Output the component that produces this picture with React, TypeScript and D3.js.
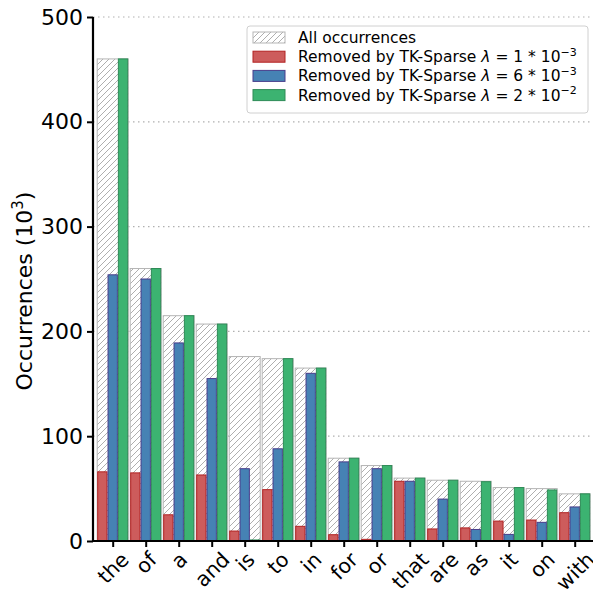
import React, { useEffect, useRef } from 'react';
import * as d3 from 'd3';

const words = ['the', 'of', 'a', 'and', 'is', 'to', 'in', 'for', 'or', 'that', 'are', 'as', 'it', 'on', 'with'];
const allOcc = [460, 260, 215, 207, 176, 174, 165, 79, 72, 60, 58, 57, 51, 50, 45];
const removedLam1 = [66, 65, 25, 63, 9.5, 49, 14, 6, 1.6, 57, 11.5, 12.5, 19, 20, 27];
const removedLam6 = [254, 250, 189, 155, 69, 88, 160, 75.5, 69, 57, 40, 11, 6.3, 17.8, 32.5];
const removedLam2 = [460, 260, 215, 207, 1, 174, 165, 79, 72, 60, 58, 56.6, 51, 48.7, 45];
const yTicks = [0, 100, 200, 300, 400, 500];

const series = [
  { values: removedLam1, fill: '#cd5c5c', stroke: '#b22222', coef: '1', exp: '−3' },
  { values: removedLam6, fill: '#4682b4', stroke: '#483d8b', coef: '6', exp: '−3' },
  { values: removedLam2, fill: '#3cb371', stroke: '#2e8b57', coef: '2', exp: '−2' },
];

export default function App() {
  const svgRef = useRef<SVGSVGElement | null>(null);

  useEffect(() => {
    if (!svgRef.current) return;
    const left = 93, right = 593, top = 17, bottom = 541;
    const font = 'DejaVu Sans, sans-serif';

    const svg = d3.select(svgRef.current);
    svg.selectAll('*').remove();

    // hatch for "all occurrences"
    const defs = svg.append('defs');
    const pat = defs.append('pattern')
      .attr('id', 'hatch')
      .attr('patternUnits', 'userSpaceOnUse')
      .attr('width', 6)
      .attr('height', 6);
    pat.append('rect').attr('width', 6).attr('height', 6).attr('fill', '#fff');
    pat.append('path')
      .attr('d', 'M-1,1 l2,-2 M0,6 l6,-6 M5,7 l2,-2')
      .attr('stroke', '#9a9a9a')
      .attr('stroke-width', 0.8);

    const y = d3.scaleLinear().domain([0, 500]).range([bottom, top]);
    const x = d3.scalePoint<string>().domain(words).range([112.7, 574.7]);
    const groupW = 31;
    const subW = groupW / 3;

    // grid
    svg.append('g')
      .selectAll('line')
      .data(yTicks.filter(t => t > 0))
      .join('line')
      .attr('x1', left).attr('x2', right)
      .attr('y1', d => y(d)).attr('y2', d => y(d))
      .attr('stroke', '#b0b0b0')
      .attr('stroke-width', 1.2)
      .attr('stroke-dasharray', '1.5,3.5');

    // all occurrences
    svg.append('g')
      .selectAll('rect')
      .data(allOcc)
      .join('rect')
      .attr('x', (d, i) => (x(words[i]) as number) - groupW / 2)
      .attr('y', d => y(d))
      .attr('width', groupW)
      .attr('height', d => bottom - y(d))
      .attr('fill', 'url(#hatch)')
      .attr('stroke', '#b5b5b5')
      .attr('stroke-width', 1);

    series.forEach((s, k) => {
      svg.append('g')
        .selectAll('rect')
        .data(s.values)
        .join('rect')
        .attr('x', (d, i) => (x(words[i]) as number) - groupW / 2 + k * subW + 0.5)
        .attr('y', d => y(d))
        .attr('width', subW - 1)
        .attr('height', d => bottom - y(d))
        .attr('fill', s.fill)
        .attr('stroke', s.stroke)
        .attr('stroke-width', 1);
    });

    // axes
    const yAxis = svg.append('g')
      .attr('transform', `translate(${left},0)`)
      .call(d3.axisLeft(y).tickValues(yTicks).tickSize(6).tickPadding(4).tickFormat(d3.format('d')));
    yAxis.select('.domain').attr('stroke', '#000').attr('stroke-width', 2.2).attr('d', `M0,${bottom}V${top}`);
    yAxis.selectAll('.tick line').attr('stroke-width', 2);
    yAxis.selectAll('.tick text').attr('font-family', font).attr('font-size', 22).attr('fill', '#000');

    const xAxis = svg.append('g')
      .attr('transform', `translate(0,${bottom})`)
      .call(d3.axisBottom(x).tickSize(6).tickPadding(4));
    xAxis.select('.domain').attr('stroke', '#000').attr('stroke-width', 2.2).attr('d', `M${left},0H${right}`);
    xAxis.selectAll('.tick line').attr('stroke-width', 2);
    // rotated labels: bounding box centred on the tick, top just under the axis
    const xfs = 20.5;
    xAxis.selectAll<SVGTextElement, string>('.tick text')
      .attr('font-family', font)
      .attr('font-size', xfs)
      .attr('fill', '#000')
      .attr('text-anchor', 'middle')
      .attr('x', 0)
      .attr('y', 0)
      .attr('dy', '0.346em')
      .attr('transform', function () {
        const L = this.getComputedTextLength();
        const H = 1.164 * xfs;
        const cy = 6.5 + ((L + H) * Math.SQRT1_2) / 2;
        return `translate(0,${cy}) rotate(-45)`;
      });

    // y label
    const yl = svg.append('text')
      .attr('transform', `translate(32,${(top + bottom) / 2 + 12}) rotate(-90)`)
      .attr('text-anchor', 'middle')
      .attr('font-family', font)
      .attr('font-size', 22)
      .attr('fill', '#000');
    yl.append('tspan').text('Occurrences (10');
    yl.append('tspan').attr('dy', -9).attr('font-size', 15).text('3');
    yl.append('tspan').attr('dy', 9).text(')');

    // legend
    const lg = svg.append('g').attr('transform', 'translate(247,26)');
    lg.append('rect')
      .attr('width', 341).attr('height', 87)
      .attr('rx', 3)
      .attr('fill', '#fff').attr('fill-opacity', 0.85)
      .attr('stroke', '#d0d0d0');
    const rowY = (i: number) => 11.5 + i * 19.2;
    lg.append('rect')
      .attr('x', 6).attr('y', rowY(0) - 5.5).attr('width', 32).attr('height', 11)
      .attr('fill', 'url(#hatch)').attr('stroke', '#b5b5b5');
    lg.append('text')
      .attr('x', 51).attr('y', rowY(0) + 5.5)
      .attr('font-family', font).attr('font-size', 15.5).text('All occurrences');
    series.forEach((s, k) => {
      const ry = rowY(k + 1);
      lg.append('rect')
        .attr('x', 6).attr('y', ry - 5.5).attr('width', 32).attr('height', 11)
        .attr('fill', s.fill).attr('stroke', s.stroke);
      const t = lg.append('text')
        .attr('x', 51).attr('y', ry + 5.5)
        .attr('font-family', font).attr('font-size', 15.5);
      t.append('tspan').text('Removed by TK-Sparse ');
      t.append('tspan').attr('font-style', 'italic').text('λ');
      t.append('tspan').text(` = ${s.coef} * 10`);
      t.append('tspan').attr('dy', -6.5).attr('font-size', 11).text(s.exp);
    });
  }, []);

  return <svg ref={svgRef} width={593} height={594} style={{ display: 'block', position: 'absolute', left: 0, top: 0 }} />;
}
